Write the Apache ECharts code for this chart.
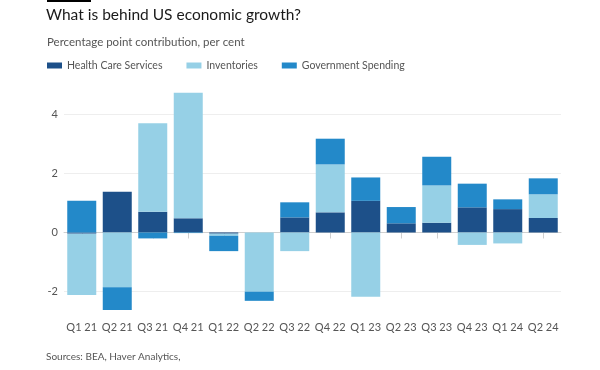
<!DOCTYPE html>
<html>
<head>
<meta charset="utf-8">
<script src="https://cdn.jsdelivr.net/npm/echarts@6/dist/echarts.min.js"></script>
<style>
html,body{margin:0;padding:0;background:#fff;}
#c{width:600px;height:370px;}
</style>
</head>
<body>
<div id="c"></div>
<script>
const categories = ["Q1 21","Q2 21","Q3 21","Q4 21","Q1 22","Q2 22","Q3 22","Q4 22","Q1 23","Q2 23","Q3 23","Q4 23","Q1 24","Q2 24"];
const healthCare = [-0.04, 1.38, 0.70, 0.48, -0.04, 0, 0.51, 0.68, 1.07, 0.31, 0.33, 0.85, 0.79, 0.49];
const inventories = [-2.07, -1.85, 2.99, 4.24, -0.07, -2.0, -0.63, 1.62, -2.17, 0, 1.26, -0.42, -0.37, 0.80];
const government = [1.07, -0.80, -0.20, -0.02, -0.52, -0.31, 0.51, 0.87, 0.79, 0.55, 0.97, 0.80, 0.33, 0.54];
const yTicks = [-2, 0, 2, 4];

const FONT = "Lato, 'Open Sans', sans-serif";
const chart = echarts.init(document.getElementById('c'), null, {renderer: 'canvas'});
chart.setOption({
  animation: false,
  backgroundColor: '#fff',
  textStyle: {fontFamily: FONT},
  graphic: [
    {type: 'rect', left: 47, top: 0, shape: {width: 44, height: 2}, style: {fill: '#000'}}
  ],
  title: [
    {text: 'What is behind US economic growth?', left: 46, top: 7, padding: 0,
     textStyle: {fontFamily: FONT, fontSize: 15.5, fontWeight: 'normal', color: '#1a1a1a'}},
    {text: 'Percentage point contribution, per cent', left: 47, top: 36, padding: 0,
     textStyle: {fontFamily: FONT, fontSize: 11.5, fontWeight: 'normal', color: '#555'}},
    {text: 'Sources: BEA, Haver Analytics,', left: 46, top: 352, padding: 0,
     textStyle: {fontFamily: FONT, fontSize: 10, fontWeight: 'normal', color: '#555'}}
  ],
  legend: {
    left: 47, top: 60, padding: 0, itemWidth: 15, itemHeight: 6, itemGap: 24,
    icon: 'rect',
    textStyle: {fontFamily: FONT, fontSize: 10.5, color: '#555'},
    data: ['Health Care Services', 'Inventories', 'Government Spending']
  },
  grid: {left: 64, right: 39, top: 89, bottom: 60, containLabel: false},
  xAxis: {
    type: 'category', data: categories, boundaryGap: true,
    axisLine: {show: true, lineStyle: {color: '#d0d0d0'}},
    axisTick: {show: true, alignWithLabel: true, length: 6, lineStyle: {color: '#d0d0d0'}},
    axisLabel: {color: '#555', fontSize: 11, fontFamily: FONT, margin: 12, interval: 0}
  },
  yAxis: {
    type: 'value', min: -2.62, max: 4.85, splitNumber: 4,
    axisLine: {show: false}, axisTick: {show: false},
    axisLabel: {color: '#555', fontSize: 11, fontFamily: FONT, margin: 6,
      showMinLabel: false, showMaxLabel: false,
      formatter: v => (yTicks.indexOf(v) >= 0 ? String(v) : '')},
    splitLine: {show: true, showMinLine: false, showMaxLine: false, lineStyle: {color: '#eeeeee'}}
  },
  series: [
    {name: 'Health Care Services', type: 'bar', stack: 'total', data: healthCare, barWidth: 29,
     itemStyle: {color: '#1d5089'}, clip: true},
    {name: 'Inventories', type: 'bar', stack: 'total', data: inventories, barWidth: 29,
     itemStyle: {color: '#96d0e6'}, clip: true},
    {name: 'Government Spending', type: 'bar', stack: 'total', data: government, barWidth: 29,
     itemStyle: {color: '#2389c9'}, clip: true}
  ]
});
</script>
</body>
</html>
